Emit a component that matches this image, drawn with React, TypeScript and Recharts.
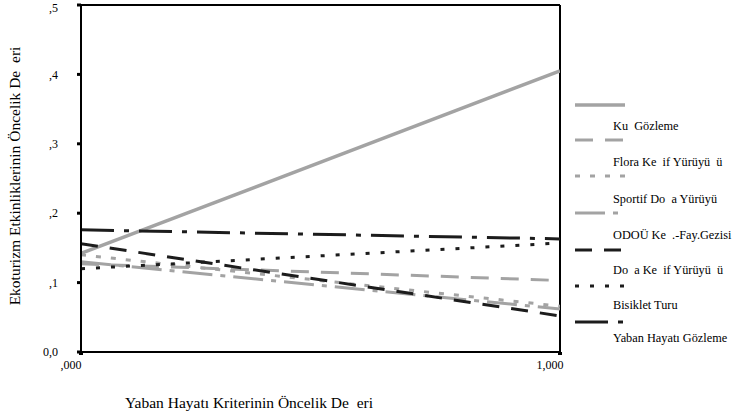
import React from "react";
import { LineChart, Line, XAxis, YAxis, ReferenceLine } from "recharts";

// ---- data ----
const xValues = [0, 1];
const kusGozleme = [0.142, 0.405];
const floraKesif = [0.127, 0.103];
const sportifDoga = [0.14, 0.066];
const odouKes = [0.13, 0.062];
const dogaKesif = [0.156, 0.052];
const bisikletTuru = [0.12, 0.157];
const yabanHayati = [0.176, 0.163];

const xTickValues = [0, 1];
const xTickLabels = [",000", "1,000"];
const yTickValues = [0, 0.1, 0.2, 0.3, 0.4, 0.5];
const yTickLabels = ["0,0", ",1", ",2", ",3", ",4", ",5"];

const seriesNames = [
  "Ku\u00a0\u00a0Gözleme",
  "Flora Ke\u00a0\u00a0if Yürüyü\u00a0\u00a0ü",
  "Sportif Do\u00a0\u00a0a Yürüyü",
  "ODOÜ Ke\u00a0\u00a0.-Fay.Gezisi",
  "Do\u00a0\u00a0a Ke\u00a0\u00a0if Yürüyü\u00a0\u00a0ü",
  "Bisiklet Turu",
  "Yaban Hayatı Gözleme",
];
const seriesValues = [kusGozleme, floraKesif, sportifDoga, odouKes, dogaKesif, bisikletTuru, yabanHayati];
const seriesKeys = ["kus", "flora", "sportif", "odou", "doga", "bisiklet", "yaban"];

const yTitle = "Ekoturizm Etkinliklerinin Öncelik De\u00a0\u00a0eri";
const xTitle = "Yaban Hayatı Kriterinin Öncelik De\u00a0\u00a0eri";

// ---- styles ----
const GRAY = "#a3a3a3";
const BLACK = "#1c1c1c";
const seriesStyles = [
  { stroke: GRAY, dash: undefined as string | undefined, width: 3.5 },
  { stroke: GRAY, dash: "18 12", width: 3 },
  { stroke: GRAY, dash: "5 10", width: 3 },
  { stroke: GRAY, dash: "30 8 5 8", width: 3 },
  { stroke: BLACK, dash: "17 12", width: 3 },
  { stroke: BLACK, dash: "4 11", width: 3 },
  { stroke: BLACK, dash: "33 10 5 10", width: 3 },
];
const legendSampleY = [105, 140, 176, 213, 250, 286, 322];
const legendLabelY = [126, 162, 199, 235, 270, 305, 338];

const data = xValues.map((x, i) => {
  const row: Record<string, number> = { x };
  seriesKeys.forEach((k, s) => {
    row[k] = seriesValues[s][i];
  });
  return row;
});

const FONT = "'Liberation Serif', 'Times New Roman', serif";

export default function App() {
  return (
    <div style={{ position: "absolute", left: 0, top: 0, width: 733, height: 417, background: "#fff" }}>
      <LineChart
        width={733}
        height={417}
        data={data}
        margin={{ top: 5, right: 173, bottom: 35, left: 0 }}
      >
        <XAxis
          dataKey="x"
          type="number"
          domain={[0, 1]}
          ticks={xTickValues}
          tickFormatter={(v: number) => xTickLabels[xTickValues.indexOf(v)]}
          height={30}
          axisLine={{ stroke: "#000", strokeWidth: 2 }}
          tickLine={{ stroke: "#000", strokeWidth: 4 }}
          tickSize={3}
          tickMargin={5}
          tick={{ fill: "#000", fontSize: 12, fontFamily: FONT, dx: -10 }}
          allowDataOverflow
        />
        <YAxis
          type="number"
          domain={[0, 0.5]}
          ticks={yTickValues}
          tickFormatter={(v: number) => yTickLabels[yTickValues.findIndex((t) => Math.abs(t - v) < 1e-9)]}
          width={81}
          axisLine={{ stroke: "#000", strokeWidth: 2 }}
          tickLine={{ stroke: "#000", strokeWidth: 3 }}
          tickSize={4}
          tickMargin={19}
          tick={{ fill: "#000", fontSize: 12, fontFamily: FONT }}
          allowDataOverflow
        />
        <ReferenceLine y={0.5} stroke="#000" strokeWidth={2} />
        <ReferenceLine x={1} stroke="#000" strokeWidth={2} />
        {seriesKeys.map((k, s) => (
          <Line
            key={k}
            type="linear"
            dataKey={k}
            name={seriesNames[s]}
            stroke={seriesStyles[s].stroke}
            strokeWidth={seriesStyles[s].width}
            strokeDasharray={seriesStyles[s].dash}
            dot={false}
            activeDot={false}
            isAnimationActive={false}
          />
        ))}
      </LineChart>
      <svg
        width={733}
        height={417}
        style={{ position: "absolute", left: 0, top: 0, pointerEvents: "none" }}
      >
        <text
          transform="translate(20,176) rotate(-90)"
          textAnchor="middle"
          fontFamily={FONT}
          fontSize={15.5}
          fill="#000"
        >
          {yTitle}
        </text>
        <text x={249} y={408} textAnchor="middle" fontFamily={FONT} fontSize={15.5} fill="#000">
          {xTitle}
        </text>
        {seriesNames.map((n, s) => (
          <g key={n}>
            <line
              x1={575}
              x2={625}
              y1={legendSampleY[s]}
              y2={legendSampleY[s]}
              stroke={seriesStyles[s].stroke}
              strokeWidth={seriesStyles[s].width}
              strokeDasharray={seriesStyles[s].dash}
            />
            <text
              x={613}
              y={legendLabelY[s]}
              dy="0.35em"
              fontFamily={FONT}
              fontSize={12.3}
              fill="#000"
            >
              {n}
            </text>
          </g>
        ))}
      </svg>
    </div>
  );
}
